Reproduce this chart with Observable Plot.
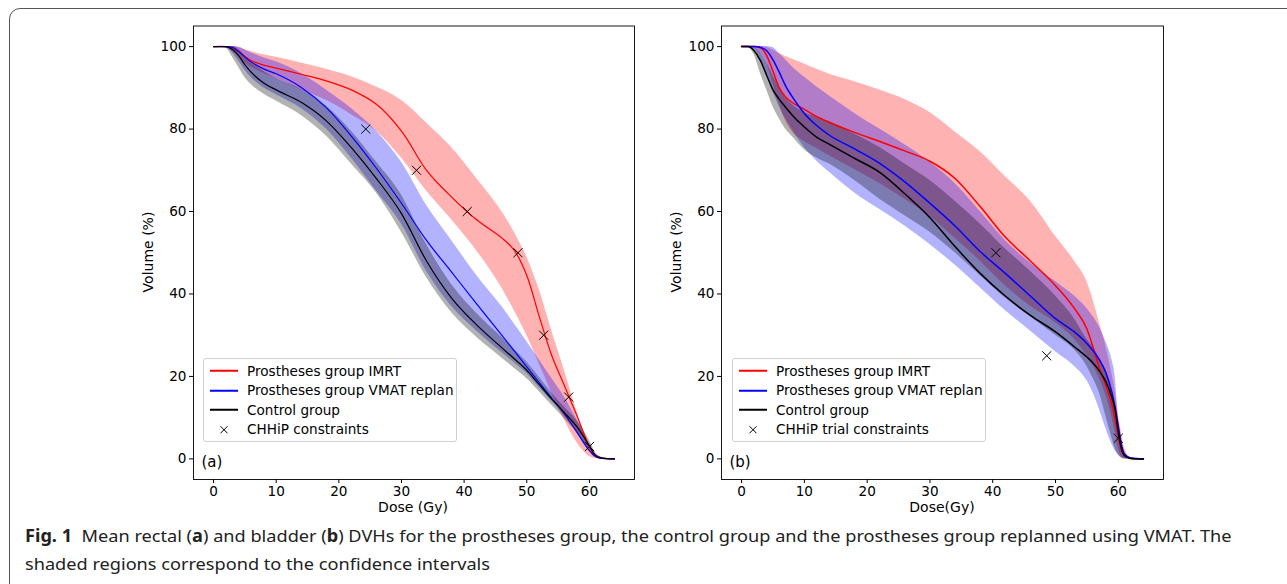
<!DOCTYPE html>
<html><head><meta charset="utf-8">
<script src="https://cdn.jsdelivr.net/npm/d3@7"></script>
<script src="https://cdn.jsdelivr.net/npm/@observablehq/plot@0.6"></script>
<style>
html,body{margin:0;padding:0;background:#fff}
body{width:1287px;height:584px;overflow:hidden;position:relative;font-family:"DejaVu Sans",sans-serif}
#border{position:absolute;left:9px;top:8px;width:1300px;height:600px;border:1px solid #555;border-radius:11px;box-sizing:border-box}
.panel{position:absolute;top:0}
.lbl{position:absolute;font-size:14px;color:#000;white-space:nowrap}
.ylbl{transform:translate(-50%,-50%) rotate(-90deg)}
.xlbl{transform:translate(-50%,-50%)}
.legend{position:absolute;height:84px;box-sizing:border-box;border:1px solid #d0d0d0;border-radius:3px;background:rgba(255,255,255,0.8);font-size:13.6px;padding-top:2px}
.row{height:19.5px;display:flex;align-items:center;white-space:nowrap}
.row svg{flex:none}
#caption{position:absolute;left:25px;top:522px;font-family:"Noto Sans",sans-serif;font-size:17px;line-height:28px;color:#222;transform-origin:0 0;white-space:nowrap}
#caption b{font-weight:700}
</style></head><body>
<div id="border"></div>
<div id="pa" class="panel" style="left:0"></div>
<div id="pb" class="panel" style="left:640px"></div>
<div class="lbl ylbl" style="left:148px;top:252px">Volume (%)</div>
<div class="lbl ylbl" style="left:676px;top:252px">Volume (%)</div>
<div class="lbl xlbl" style="left:413px;top:507px">Dose (Gy)</div>
<div class="lbl xlbl" style="left:942px;top:507px">Dose(Gy)</div>
<div id="caption"><div id="cap1"><b>Fig. 1</b>&nbsp; Mean rectal (<b>a</b>) and bladder (<b>b</b>) DVHs for the prostheses group, the control group and the prostheses group replanned using VMAT. The</div><div>shaded regions correspond to the confidence intervals</div></div>
<script>
// ---------- Panel (a): rectum ----------
const rectDose     = [0,2,3,4,5,6,8,10,14,18,22,26,30,34,38,42,46,48,50,52,54,56,58,60,61,62,64];
const rectControl  = [100,100,99.3,97.8,95.6,93.8,91.2,89.5,86.5,82,75.5,68,59.5,48,39,32.5,27,24.3,21.5,18,14.5,11.2,7.8,3.2,0.8,0.2,0];
const rectControlLo= [100,99.6,97.5,95,92.5,90.8,88.5,86.8,83.3,78.3,71.5,64.5,55,44,35.5,29.5,24.5,22,19.5,16.3,13,9.8,6.3,2,0.3,0,0];
const rectControlHi= [100,100,100,99.3,97.8,96.3,94,92.3,89.6,85.6,79.5,72,64,52,42.3,35.3,29.5,26.6,23.5,19.8,16,12.6,9.3,4.5,1.5,0.4,0];
const rectVmat     = [100,100,99.8,98.8,97.5,96.3,94.6,93.4,90.1,85.2,78.3,70.5,62,53,45.3,37.6,30,26.2,22.3,18.5,14.7,11,6.5,2,0.5,0.1,0];
const rectVmatLo   = [100,99.8,98.5,96.5,94.3,92.5,90,88.3,85,80,73,65,57,45.5,37,31,25.8,23.3,20.7,17.3,14,10.5,6.5,2.2,0.5,0,0];
const rectVmatHi   = [100,100,100,99.8,99.2,98.5,97.3,96.3,93.5,89.5,85,79.5,72,61.5,53,44.5,37,32.8,28.5,24,19.5,15,9.5,3.5,1,0.2,0];
const rectImrt     = [100,100,99.7,98.8,97.6,96.6,95.5,94.8,93.3,91.7,89.5,86,79.5,70,63.5,58,53.6,50.6,44.5,34.5,25,17.8,10.5,3,0.8,0.2,0];
const rectImrtLo   = [100,99.8,99,97.5,96,95,93.5,92.3,89.5,87,83.5,79.5,73,65,58,50.5,41.5,36,30,23,16,9.5,4,0.6,0.1,0,0];
const rectImrtHi   = [100,100,100,99.9,99.3,98.8,98,97.4,96,94.5,92.7,90.2,87,81.5,75.5,68,60,55,49,41,31,21.5,11.5,3,0.9,0.2,0];
const rectConstrDose = [24.3,32.4,40.5,48.6,52.7,56.7,60];
const rectConstrVol  = [80,70,60,50,30,15,3];

// ---------- Panel (b): bladder ----------
const bladDose     = [0,1,2,3,4,5,6,7,8,10,12,14,18,22,26,30,34,38,42,46,50,53,55,56,57,58,59,59.5,60,60.5,61,62,64];
const bladControl  = [100,100,99,96.6,93,89.5,87.2,85.3,83.5,80.5,78,76.3,72.9,69.5,64.3,58.5,51.5,45,39.5,34.8,30.8,27.2,24.7,23.2,21.3,18.8,14.8,11.8,6.5,2.5,0.8,0.1,0];
const bladControlLo= [100,99.8,98,93.5,89.5,85.5,82.5,80,78.3,75,73,71.5,67.5,63,59,55,50,44.5,39,34.5,30,26.5,22.5,19.5,16,10.5,5,2.5,1,0.3,0,0,0];
const bladControlHi= [100,100,99.8,98.5,96,93,90,87.5,86,84,82.9,81.8,78.8,75.5,71.5,67.5,62.5,57,51,45.5,39.5,34,29,27,24.5,21.5,17,13.5,8,3.5,1,0.1,0];
const bladVmat     = [100,100,100,99.8,99,96.8,93.8,90.5,88,83.8,80.8,78.5,75.2,71.7,67.2,62,56.5,50.3,45,39.5,34,30.8,28,26.2,24,21,16,12.5,8,3.5,1.2,0.2,0];
const bladVmatLo   = [100,100,99.5,97,93,89,85.5,82.5,80,75.5,72.2,69.5,64.5,60.5,56.5,52,47,41.5,36,31,26,22.5,19,16,12,7.5,3.5,2,1,0.2,0,0,0];
const bladVmatHi   = [100,100,100,100,100,99.8,98.3,96.8,95.2,92.6,90.2,88,83.8,80,76.2,72,66.8,60,53,47.5,43,39.5,36.5,34.5,32,28.5,24,20,10,4,1.3,0.2,0];
const bladImrt     = [100,100,100,99.8,97.8,94,90,87.8,86.5,84.8,83,81.6,79.2,77,74.7,72.2,68,61.2,53.8,48,42,36.5,31.5,27,22,18,13,9.5,5.5,2,0.8,0.1,0];
const bladImrtLo   = [100,100,99.8,98.5,96,91,86,82,79.5,77,75.3,73.5,70.2,66.8,63,58.8,53.5,48,42,37,33,29,25,22.5,19.5,15.5,10,6.5,2.5,0.6,0.1,0,0];
const bladImrtHi   = [100,100,100,100,99.8,99.2,98.3,97.6,97,95.8,94.5,93.3,91.5,89.5,87.2,84,79.3,74.5,68.5,62.5,54,48,43,38.5,33,27.5,20.5,16.5,11,6.5,2.5,0.3,0];
const bladConstrDose = [40.5,48.6,60];
const bladConstrVol  = [50,25,5];

const xTicks = [0,10,20,30,40,50,60];
const yTicks = [0,20,40,60,80,100];
const legendA = ["Prostheses group IMRT","Prostheses group VMAT replan","Control group","CHHiP constraints"];
const legendB = ["Prostheses group IMRT","Prostheses group VMAT replan","Control group","CHHiP trial constraints"];

function table(dose, s) {
  return dose.map((d, i) => {
    const o = {dose: d};
    for (const k in s) o[k] = s[k][i];
    return o;
  });
}

function makePanel(rows, cDose, cVol, opts) {
  const curve = "monotone-x";
  return Plot.plot({
    width: opts.width, height: 520,
    marginLeft: opts.ml, marginRight: opts.mr, marginTop: 25.5, marginBottom: 41,
    style: {fontFamily: "DejaVu Sans, sans-serif", fontSize: "13.6px", color: "black", background: "transparent", overflow: "visible"},
    x: {domain: [-3.2, 67.2]},
    y: {domain: [-5, 105]},
    marks: [
      Plot.areaY(rows, {x: "dose", y1: "imrtLo", y2: "imrtHi", fill: "red", fillOpacity: 0.3, curve}),
      Plot.areaY(rows, {x: "dose", y1: "vmatLo", y2: "vmatHi", fill: "blue", fillOpacity: 0.3, curve}),
      Plot.areaY(rows, {x: "dose", y1: "ctrlLo", y2: "ctrlHi", fill: "black", fillOpacity: 0.3, curve}),
      Plot.line(rows, {x: "dose", y: "imrt", stroke: "red", strokeWidth: opts.sw, curve: opts.lineCurve || curve}),
      Plot.line(rows, {x: "dose", y: "vmat", stroke: "blue", strokeWidth: opts.sw, curve}),
      Plot.line(rows, {x: "dose", y: "ctrl", stroke: "black", strokeWidth: opts.sw, curve}),
      Plot.dot(cDose.map((d, i) => ({d, v: cVol[i]})), {x: "d", y: "v", symbol: "times", r: 4.2, stroke: "black", strokeWidth: 1}),
      Plot.frame({stroke: "black", strokeWidth: 0.9}),
      Plot.axisX({ticks: xTicks, tickSize: 4, tickPadding: 3, fontSize: 13.6, label: null}),
      Plot.axisY({ticks: yTicks, tickSize: 4, tickPadding: 3, fontSize: 13.6, label: null}),
      Plot.text([opts.tag], {frameAnchor: "bottom-left", dx: 8, dy: -13, fontSize: 15, textAnchor: "start"})
    ]
  });
}

const rowsA = table(rectDose, {ctrl: rectControl, ctrlLo: rectControlLo, ctrlHi: rectControlHi,
  vmat: rectVmat, vmatLo: rectVmatLo, vmatHi: rectVmatHi, imrt: rectImrt, imrtLo: rectImrtLo, imrtHi: rectImrtHi});
const rowsB = table(bladDose, {ctrl: bladControl, ctrlLo: bladControlLo, ctrlHi: bladControlHi,
  vmat: bladVmat, vmatLo: bladVmatLo, vmatHi: bladVmatHi, imrt: bladImrt, imrtLo: bladImrtLo, imrtHi: bladImrtHi});

document.getElementById("pa").append(makePanel(rowsA, rectConstrDose, rectConstrVol, {width: 640, ml: 193, mr: 6, sw: 1.2, tag: "(a)", lineCurve: "catmull-rom"}));
document.getElementById("pb").append(makePanel(rowsB, bladConstrDose, bladConstrVol, {width: 647, ml: 81, mr: 124, sw: 1.5, tag: "(b)"}));

function legend(left, labels) {
  const box = document.createElement("div");
  box.className = "legend";
  box.style.left = left + "px"; box.style.top = "358px"; box.style.width = "254px";
  const colors = ["red", "blue", "black", null];
  labels.forEach((t, i) => {
    const r = document.createElement("div"); r.className = "row";
    const c = colors[i];
    const sym = c ? `<line x1="6" x2="34" y1="9.75" y2="9.75" stroke="${c}" stroke-width="2"/>`
                  : `<path d="M16.5,6.25L23.5,13.25M16.5,13.25L23.5,6.25" stroke="black" stroke-width="1"/>`;
    r.innerHTML = `<svg width="43" height="19.5">${sym}</svg><span>${t}</span>`;
    box.appendChild(r);
  });
  document.body.appendChild(box);
}
legend(203, legendA);
legend(732, legendB);

function fitCaption() {
  const cap = document.getElementById("caption");
  cap.style.transform = "none";
  const w = document.getElementById("cap1").scrollWidth;
  const s = 1207 / w;
  cap.style.transform = `scaleX(${s})`;
}
fitCaption();
if (document.fonts && document.fonts.ready) document.fonts.ready.then(fitCaption);
</script>
</body></html>
